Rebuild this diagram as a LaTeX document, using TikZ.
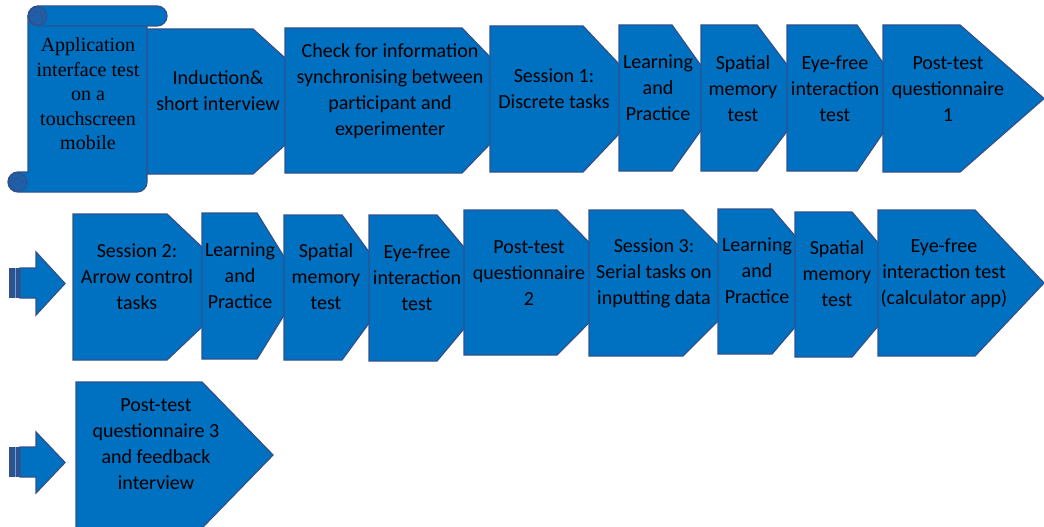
\documentclass[tikz,border=0pt]{standalone}
\usepackage{fontspec}
\setmainfont{Carlito}
\newfontfamily\scrollfont{Liberation Serif}
\usetikzlibrary{positioning}
\definecolor{stagefill}{HTML}{0070C0}
\definecolor{stageline}{HTML}{2F528F}
\definecolor{curlfill}{HTML}{1F5FA8}

% pentagon stage: name, left, top, bottom, corner, tip, text x, text y, text
\newcommand{\stage}[9]{%
  \draw[stagebox] (#2,#3) -- (#5,#3) -- (#6,{(#3+#4)/2}) -- (#5,#4) -- (#2,#4) -- cycle;
  \node[stagetext] (#1) at (#7,#8) {#9};
}
% block arrow leading into a row: tail x, top of shaft, bottom of shaft, head top, head bottom
\newcommand{\rowarrow}[5]{%
  \fill[stageline] (#1,#2) rectangle (20,#3);
  \draw[white!40!stagefill, line width=0.8pt] (15,#2) -- (15,#3);
  \draw[stagebox] (20,#2) -- (36,#2) -- (36,#4) -- (65,{(#4+#5)/2}) -- (36,#5) -- (36,#3) -- (20,#3) -- cycle;
}

\begin{document}
\begin{tikzpicture}[
  x=1pt, y=-1pt,
  stagebox/.style={draw=stageline, fill=stagefill, line width=1.3pt, line join=miter},
  stagetext/.style={align=center, font=\fontsize{20}{26}\selectfont, text=black, inner sep=0pt},
  curl/.style={draw=stageline, fill=curlfill, line width=1.1pt},
]
\useasboundingbox (0,0) rectangle (1044,527);

% =================== ROW 1 ===================
\stage{induct}{147}{29}{174}{253}{333}{218}{91}{Induction\&\\short interview}
% scroll
\draw[stagebox] (28,16) -- (28,172) -- (18,172) arc[start angle=270, end angle=90, radius=10]
  -- (137,192) arc[start angle=90, end angle=0, radius=10] -- (147,16) -- cycle;
\draw[stagebox] (38,6) -- (157,6) arc[start angle=270, end angle=450, radius=10]
  -- (38,26) arc[start angle=90, end angle=270, radius=10] -- cycle;
\draw[curl] (38,16) circle[radius=9];
\draw[stageline, line width=0.9pt] (33,16) arc[start angle=180, end angle=360, radius=4.5] -- (43,21);
\draw[curl] (18,182) circle[radius=9];
\draw[stageline, line width=0.9pt] (13,182) arc[start angle=180, end angle=360, radius=4.5] -- (28,182);
\node[stagetext, font=\scrollfont\fontsize{20}{24.5}\selectfont] (scroll) at (88,94)
  {Application\\interface test\\on a\\touchscreen\\mobile};

\stage{check}{285}{28}{173}{462}{532}{390}{91}{Check for information\\synchronising between\\participant and\\experimenter}
\stage{sessA}{490}{26}{172}{583}{652}{554}{89}{Session 1:\\Discrete tasks}
\stage{learnA}{619}{25}{171}{672}{724}{658}{88}{Learning\\and\\Practice}
\stage{spatA}{701}{25}{171}{757}{812}{743}{89}{Spatial\\memory\\test}
\stage{eyeA}{787}{25}{171}{857}{907}{835}{89}{Eye-free\\interaction\\test}
\stage{postA}{883}{25}{172}{960}{1044}{948}{89}{Post-test\\questionnaire\\1}

% =================== ROW 2 ===================
\rowarrow{9}{268}{298}{252}{315}
\stage{sessB}{73}{214}{360}{167}{244}{137}{277}{Session 2:\\Arrow control\\tasks}
\stage{learnB}{202}{213}{359}{257}{302}{240}{276}{Learning\\and\\Practice}
\stage{spatB}{284}{215}{360}{342}{395}{326}{277}{Spatial\\memory\\test}
\stage{eyeB}{369}{215}{361}{437}{498}{417}{278}{Eye-free\\interaction\\test}
\stage{postB}{464}{210}{355}{557}{629}{529}{273}{Post-test\\questionnaire\\2}
\stage{sessC}{589}{210}{356}{683}{756}{654}{273}{Session 3:\\Serial tasks on\\inputting data}
\stage{learnC}{718}{209}{354}{772}{834}{757}{271}{Learning\\and\\Practice}
\stage{spatC}{795}{212}{357}{852}{913}{837}{274}{Spatial\\memory\\test}
\stage{eyeC}{878}{210}{356}{975}{1044}{944}{273}{Eye-free\\interaction test\\(calculator app)}

% =================== ROW 3 ===================
\rowarrow{9}{447}{477}{432}{493}
\stage{postC}{76}{382}{528}{202}{273}{156}{444}{Post-test\\questionnaire 3\\and feedback\\interview}

\end{tikzpicture}
\end{document}
